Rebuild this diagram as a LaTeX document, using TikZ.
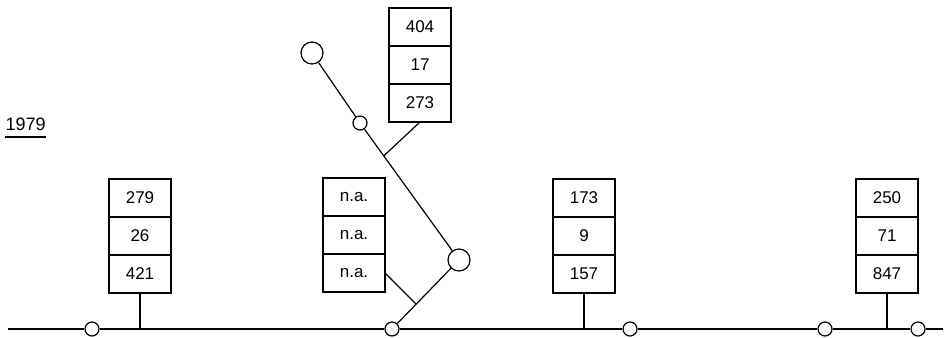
\documentclass[tikz,border=0pt]{standalone}
\usepackage{fontspec}
\setmainfont{Liberation Sans}
\usetikzlibrary{positioning,calc}

\begin{document}
\begin{tikzpicture}[
        x=1pt, y=-1pt,
        line width=1.2pt,
        cell/.style={rectangle, draw=black, minimum width=62pt, minimum height=38pt, inner sep=0pt, outer sep=0pt, font=\fontsize{17}{19}\selectfont},
        knot/.style={circle, draw=black, fill=white, minimum size=14pt, inner sep=0pt},
        bigknot/.style={knot, minimum size=22pt}
    ]
    \useasboundingbox (0,0) rectangle (952,337);

    % Year
    \node[font=\fontsize{18}{20}\selectfont, anchor=west, inner sep=0pt] (year) at (5,124) {1979};
    \draw[line width=1.6pt] (year.south west) ++(0,6) coordinate (u1) -- (u1 -| year.south east);

    % Main line
    \coordinate (start) at (8,329);
    \coordinate (end) at (943,329);
    \node[knot] (k1) at (92,329) {};
    \node[knot] (k2) at (392,329) {};
    \node[knot] (k3) at (630,329) {};
    \node[knot] (k4) at (825,329) {};
    \node[knot] (k5) at (918,329) {};
    \draw (start) -- (k1) -- (k2) -- (k3) -- (k4) -- (k5) -- (end);

    % Boxes
    \node[cell] (a1) at (140,198) {279};
    \node[cell, below=0pt of a1] (a2) {26};
    \node[cell, below=0pt of a2] (a3) {421};

    \node[cell] (b1) at (354,197) {n.a.};
    \node[cell, below=0pt of b1] (b2) {n.a.};
    \node[cell, below=0pt of b2] (b3) {n.a.};

    \node[cell] (t1) at (420,27) {404};
    \node[cell, below=0pt of t1] (t2) {17};
    \node[cell, below=0pt of t2] (t3) {273};

    \node[cell] (c1) at (584,198) {173};
    \node[cell, below=0pt of c1] (c2) {9};
    \node[cell, below=0pt of c2] (c3) {157};

    \node[cell] (d1) at (887,198) {250};
    \node[cell, below=0pt of d1] (d2) {71};
    \node[cell, below=0pt of d2] (d3) {847};

    % Stems
    \draw (a3.south) -- (a3.south |- start);
    \draw (c3.south) -- (c3.south |- start);
    \draw (d3.south) -- (d3.south |- start);

    % Branch
    \node[bigknot] (bigA) at (312,53) {};
    \node[knot] (s1) at (360,123) {};
    \node[bigknot] (bigB) at (459,260) {};
    \draw (bigA) -- (s1) -- (bigB) -- (k2);
    \coordinate (j1) at ($(s1)!0.24!(bigB)$);
    \coordinate (j2) at ($(bigB)!0.64!(k2)$);
    \draw (t3.south) -- (j1);
    \draw (b3.east) -- (j2);
\end{tikzpicture}
\end{document}
